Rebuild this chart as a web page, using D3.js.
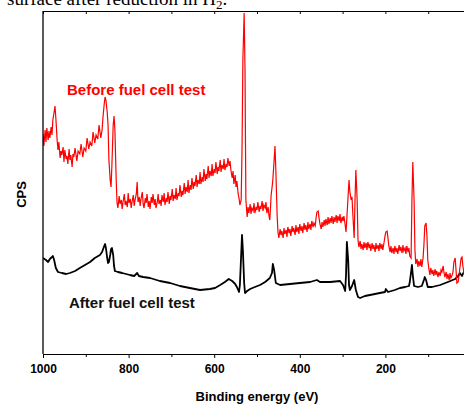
<!DOCTYPE html>
<html>
<head>
<meta charset="utf-8">
<script src="https://cdn.jsdelivr.net/npm/d3@7"></script>
<style>
  body { margin: 0; background: #fff; }
  svg { display: block; }
  .lbl { font-family: "Liberation Sans", Arial, sans-serif; font-weight: bold; }
</style>
</head>
<body>
<div id="chart"></div>
<script>
/* XPS survey spectra: [binding energy (eV), counts (arb. units)] */
var beforeTest = [
  [1000,220],[998,208],[995,224],[993,212],[991,226],[988,214],[986,223],[984,216],[981,227],[979,219],
  [977,234],[974,242],[972,248],[970,236],[967,214],
  [965,204],[963,212],[960,196],[958,203],[956,199],[953,207],[951,192],[949,204],[946,195],[944,198],
  [942,190],[939,205],[937,194],[935,199],[932,187],[930,200],[928,197],[925,206],[921,193],[918,203],
  [914,200],[911,210],[907,197],[904,206],[900,203],[897,216],[893,205],[890,212],[886,208],[883,222],
  [879,211],[876,219],[872,215],[869,229],[865,216],[862,224],
  [860,236],[857,250],[855,257],[853,254],[850,242],[848,229],[846,194],[843,174],[841,167],
  [839,189],[836,229],[834,238],[832,224],[829,174],[827,151],
  [825,146],[822,158],[820,150],[817,154],[815,145],[813,152],[810,160],[808,149],[806,153],[803,147],
  [801,161],[799,151],[796,155],[794,146],[792,152],[789,159],[787,148],[785,154],[782,160],[780,172],
  [778,152],[775,157],[773,148],[771,155],[768,162],[766,150],[764,146],[761,156],[759,151],[757,160],
  [754,147],[752,153],[750,145],[747,157],[745,151],[743,160],[740,149],[738,155],[736,146],[733,152],
  [731,160],[729,150],[726,154],[724,148],[722,159],[719,152],[717,161],[715,149],[712,156],[710,152],
  [708,162],[705,150],[703,158],[701,154],[698,165],[696,153],[694,159],[691,155],[689,166],[687,154],
  [684,161],[682,158],[680,169],[677,157],[675,163],[673,159],[670,171],[668,160],[666,167],[663,162],
  [661,174],[659,161],[656,169],[654,164],[652,176],[649,165],[647,172],[645,168],[642,179],[640,167],
  [638,174],[635,170],[633,182],[631,170],[628,177],[626,172],[624,185],[621,173],[619,180],[617,175],
  [614,188],[612,176],[610,183],[607,178],[605,190],[603,178],[600,185],[598,181],[596,192],[593,180],
  [591,187],[589,183],[586,194],[584,182],[582,189],[579,185],[577,195],[575,184],[572,190],[570,187],
  [568,196],[565,188],[563,193],[561,184],[558,176],[556,183],[554,170],[551,179],[549,167],[547,173],
  [544,160],[542,156],[540,149],[537,154],[535,204],[533,294],[530,341],[528,284],[526,154],
  [523,137],[521,147],[519,141],[516,150],[514,140],[512,146],[509,143],[507,151],[505,141],[502,147],
  [500,144],[498,152],[495,142],[493,148],[491,145],[488,153],[486,143],[484,149],[481,146],[479,152],
  [477,141],[474,147],[472,138],[470,134],[467,159],[465,166],[463,174],[460,194],[458,208],[456,184],
  [453,139],
  [451,122],[449,116],[446,125],[444,119],[442,123],[439,116],[437,126],[435,120],[432,124],[430,117],
  [428,127],[425,121],[423,125],[421,118],[418,128],[416,122],[414,126],[411,119],[409,129],[407,122],
  [404,127],[402,120],[400,130],[397,123],[395,128],[393,121],[390,131],[388,124],[386,129],[383,122],
  [381,132],[379,125],[376,130],[374,124],[372,133],[369,127],[367,131],[364,128],[362,136],[360,142],
  [357,143],[355,136],[353,130],[350,125],[348,132],[346,127],[343,134],[341,128],[339,135],[336,129],
  [334,137],[332,130],[329,136],[327,131],[325,138],[322,130],[320,137],[318,132],[315,139],[313,131],
  [311,138],[308,133],[306,140],[304,131],[301,137],[299,133],[297,138],[294,129],[292,122],
  [290,136],[287,159],[285,174],[283,162],[280,154],[278,157],[276,139],
  [273,116],[271,154],[269,184],[266,154],[264,114],
  [262,107],[259,113],[257,105],[255,110],[252,104],[250,112],[248,106],[245,111],[243,104],[241,112],
  [238,106],[236,110],[234,103],[231,111],[229,105],[227,109],[224,102],[222,111],[220,105],[217,109],
  [215,103],[213,111],[210,105],[208,110],[206,104],[203,112],
  [201,118],[199,122],[196,123],[194,116],[192,108],
  [189,102],[187,108],[185,101],[182,106],[180,100],[178,108],[175,102],[173,106],[171,100],[168,109],
  [166,103],[164,107],[161,101],[159,109],[157,103],[154,106],[152,100],[150,108],[147,102],[145,106],
  [143,98],[140,96],[138,154],[136,192],[133,154],[131,104],
  [129,90],[126,95],[124,87],[122,93],[119,88],[117,95],[115,87],[112,96],
  [110,109],[108,128],[105,131],[103,119],[101,94],
  [98,84],[96,79],[94,86],[91,80],[89,84],[87,78],[84,85],[82,79],[80,83],[77,77],
  [75,82],[72,78],[70,84],[68,82],[65,88],[63,81],[61,77],[58,82],[56,75],[54,80],
  [51,74],[49,81],[47,76],[44,79],[42,82],[40,92],
  [37,96],[35,84],[33,71],[30,72],[28,78],[26,86],[23,96],[21,97],[19,88],[16,80],[12,78]
];

var afterTest = [
  [1000,96],[993,94],[988,92],[984,95],[979,97],[977,98],[974,94],[970,86],[965,82],[956,81],
  [946,80],[937,81],[925,83],[914,86],[902,89],[890,92],[879,96],[867,99],[862,102],[857,108],
  [855,110],[853,106],[850,96],[848,91],[846,92],[843,99],[841,105],[839,106],[836,99],[834,88],
  [832,83],[825,82],[815,81],[806,80],[797,79],[787,78],[780,81],[776,78],[766,77],[750,76],
  [727,73],[703,71],[680,68],[657,66],[633,64],[610,65],[598,66],[586,69],[575,72],[566,75],
  [558,73],[551,70],[547,67],[542,62],[540,69],[537,99],[535,119],[533,104],[530,71],[528,61],
  [523,63],[516,65],[505,67],[493,69],[481,72],[470,76],[465,81],[463,90],[460,84],[456,71],
  [446,69],[423,70],[400,71],[376,72],[360,74],[353,72],[329,72],[306,73],[299,69],[294,63],
  [292,79],[290,112],[287,94],[285,69],[283,64],[278,68],[273,74],[269,64],[264,57],[259,56],
  [248,58],[236,59],[213,61],[201,62],[199,65],[194,62],[178,64],[166,66],[154,67],[145,68],
  [143,72],[140,82],[138,89],[136,79],[133,68],[124,67],[115,68],[110,74],[108,77],[105,74],
  [101,67],[91,67],[72,69],[54,72],[37,75],[30,78],[26,81],[21,78],[16,83],[12,84]
];

var majorTicks = [1000, 800, 600, 400, 200, 0];
var minorTicks = [900, 700, 500, 300, 100];
var seriesLabels = ["Before fuel cell test", "After fuel cell test"];

var width = 464, height = 406;
var margin = { top: 11, right: -7, bottom: 52, left: 43 };

var svg = d3.select("#chart").append("svg")
    .attr("width", width)
    .attr("height", height);

// caption of the page above, cut by the crop
var cap = svg.append("text")
    .attr("x", 7)
    .attr("y", 5)
    .style("font-family", "'Liberation Serif', 'Times New Roman', serif")
    .style("font-size", "19px")
    .text("surface after reduction in H");
cap.append("tspan").attr("dy", 4).style("font-size", "13px").text("2");
cap.append("tspan").attr("dy", -4).text(".");

var x = d3.scaleLinear()
    .domain([1000, 0])
    .range([margin.left, width - margin.right]);

var y = d3.scaleLinear()
    .domain([0, 343])
    .range([height - margin.bottom, margin.top]);

svg.append("clipPath").attr("id", "plotclip")
    .append("rect")
    .attr("x", margin.left)
    .attr("y", margin.top)
    .attr("width", x(0) - margin.left)
    .attr("height", y(0) - margin.top);

var line = d3.line()
    .x(function (d) { return x(d[0]); })
    .y(function (d) { return y(d[1]); });

var plot = svg.append("g").attr("clip-path", "url(#plotclip)");

plot.append("path")
    .datum(afterTest)
    .attr("fill", "none")
    .attr("stroke", "#000")
    .attr("stroke-width", 1.8)
    .attr("stroke-linejoin", "round")
    .attr("d", line);

plot.append("path")
    .datum(beforeTest)
    .attr("fill", "none")
    .attr("stroke", "#ff0000")
    .attr("stroke-width", 1.2)
    .attr("d", line);

// bottom axis: labelled major ticks and short minor ticks
var xAxis = d3.axisBottom(x)
    .tickValues(majorTicks)
    .tickSize(4)
    .tickSizeOuter(0)
    .tickPadding(6)
    .tickFormat(d3.format("d"));

var gx = svg.append("g")
    .attr("transform", "translate(0," + y(0) + ")")
    .call(xAxis);
gx.selectAll("text")
    .attr("class", "lbl")
    .style("font-size", "12px")
    .attr("fill", "#000");

svg.append("g")
    .attr("transform", "translate(0," + y(0) + ")")
    .call(d3.axisBottom(x).tickValues(minorTicks).tickSize(3).tickSizeOuter(0).tickFormat(""))
    .select(".domain").remove();

// top mirror axis, ticks inward
svg.append("g")
    .attr("transform", "translate(0," + y(343) + ")")
    .call(d3.axisBottom(x).tickValues(majorTicks.concat(minorTicks)).tickSize(3).tickSizeOuter(0).tickFormat(""));

// left axis has no ticks
svg.append("line")
    .attr("x1", margin.left).attr("x2", margin.left)
    .attr("y1", y(0)).attr("y2", y(343))
    .attr("stroke", "#000")
    .attr("stroke-width", 1.3);

svg.append("text")
    .attr("class", "lbl")
    .attr("x", x(500))
    .attr("y", 401)
    .attr("text-anchor", "middle")
    .style("font-size", "13px")
    .text("Binding energy (eV)");

svg.append("text")
    .attr("class", "lbl")
    .attr("transform", "translate(26,194.5) rotate(-90)")
    .attr("text-anchor", "middle")
    .style("font-size", "13px")
    .text("CPS");

svg.append("text")
    .attr("class", "lbl")
    .attr("x", 67)
    .attr("y", 95)
    .attr("fill", "#ff0000")
    .style("font-size", "15px")
    .text(seriesLabels[0]);

svg.append("text")
    .attr("class", "lbl")
    .attr("x", 69)
    .attr("y", 307.5)
    .attr("fill", "#111")
    .style("font-size", "15px")
    .text(seriesLabels[1]);
</script>
</body>
</html>
